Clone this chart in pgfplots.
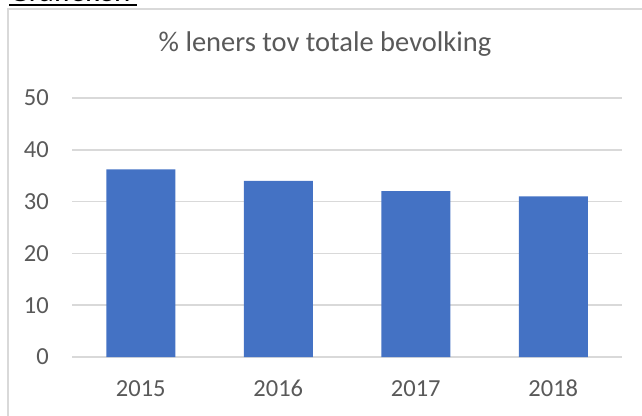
\documentclass[border=0pt]{standalone}
\usepackage{pgfplots}
\pgfplotsset{compat=1.18}
\usepackage{fontspec}
\setmainfont{Carlito}
\definecolor{barblue}{HTML}{4472C4}
\definecolor{txtgray}{HTML}{595959}
\definecolor{gridgray}{HTML}{D9D9D9}
\begin{document}
\begin{tikzpicture}
\useasboundingbox (0pt,0pt) rectangle (642pt,415pt);
\clip (0pt,0pt) rectangle (642pt,415pt);
% surrounding text and frame
\node[anchor=base west, inner sep=0pt, font=\fontsize{31}{37}\selectfont] at (9pt,413pt) {Grafieken};
\draw[line width=2pt, black] (9pt,410pt) -- (137pt,410pt);
\draw[gridgray, line width=1.5pt] (8pt,-5pt) -- (8pt,406pt) -- (650pt,406pt);
\begin{axis}[
  at={(72pt,58pt)}, anchor=south west,
  scale only axis, width=550pt, height=259pt,
  xmin=-0.5, xmax=3.5, ymin=0, ymax=50,
  ytick={0,10,20,30,40,50},
  xtick=data, xticklabels={2015,2016,2017,2018},
  major tick length=0pt,
  axis line style={draw=none},
  ymajorgrids, grid style={gridgray, line width=1.5pt},
  /pgf/number format/assume math mode=true,
  ticklabel style={font=\fontsize{24.5}{29}\selectfont, text=txtgray, inner sep=0pt},
  yticklabel style={anchor=east, xshift=-23pt},
  xticklabel style={anchor=north, yshift=-23pt},
  title={\% leners tov totale bevolking},
  title style={font=\fontsize{28.5}{34}\selectfont, text=txtgray, anchor=base, at={(0.46,1)}, yshift=41pt, inner sep=0pt},
]
\addplot[ybar, bar width=69pt, fill=barblue, draw=none] coordinates {(0,36.2) (1,34.0) (2,32.0) (3,31.0)};
\end{axis}
\end{tikzpicture}
\end{document}
